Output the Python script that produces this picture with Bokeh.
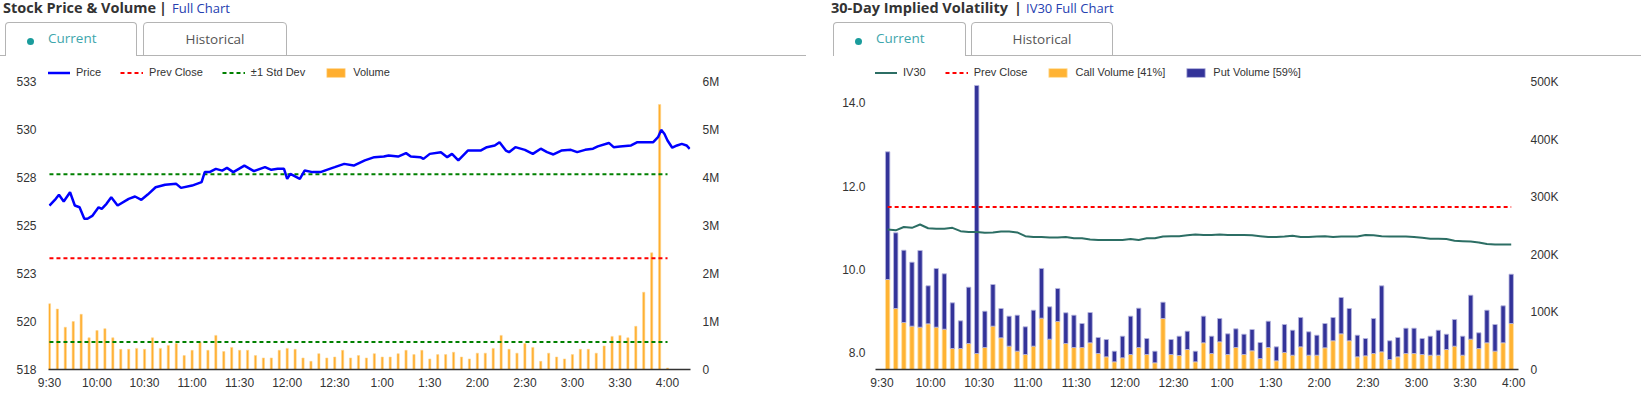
from bokeh.plotting import figure
from bokeh.models import Range1d, LinearAxis, FixedTicker, Legend, LegendItem, Div
from bokeh.layouts import column, row
from bokeh.embed import file_html
from bokeh.resources import INLINE

# ---------------- data ----------------
time_ticks = [0, 30, 60, 90, 120, 150, 180, 210, 240, 270, 300, 330, 360, 390]
time_labels = ["9:30", "10:00", "10:30", "11:00", "11:30", "12:00", "12:30",
               "1:00", "1:30", "2:00", "2:30", "3:00", "3:30", "4:00"]
session_start, session_end = 0, 390

# stock price (minutes after 9:30, price)
price_minutes = [0, 4, 6, 9, 13, 16, 19, 22, 24, 27, 31, 33, 36, 39, 43, 50, 54, 58, 62, 67,
                 73, 80, 83, 90, 96, 98, 101, 105, 109, 112, 116, 123, 129, 136, 140, 144, 148,
                 150, 152, 158, 161, 166, 171, 175, 180, 186, 192, 199, 205, 211, 214, 220, 225,
                 228, 234, 236, 240, 247, 251, 254, 258, 264, 272, 276, 281, 284, 288, 290, 294,
                 300, 305, 310, 314, 318, 323, 329, 333, 338, 343, 346, 353, 356, 360, 367, 371,
                 377, 381, 384, 386, 388, 390, 393, 396, 399, 402, 404]
prices = [526.04, 526.39, 526.60, 526.25, 526.73, 526.04, 525.95, 525.35, 525.35, 525.50,
          525.95, 525.87, 526.13, 526.47, 526.04, 526.39, 526.51, 526.34, 526.61, 526.99,
          527.12, 527.17, 526.96, 527.08, 527.26, 527.78, 527.78, 527.95, 527.86, 528.00,
          527.78, 528.12, 527.83, 528.04, 527.90, 527.95, 527.95, 527.43, 527.69, 527.43,
          527.86, 527.78, 527.78, 527.90, 528.04, 528.21, 528.12, 528.39, 528.56, 528.59,
          528.65, 528.59, 528.77, 528.59, 528.56, 528.47, 528.73, 528.82, 528.56, 528.73,
          528.39, 528.90, 528.90, 529.08, 529.17, 529.34, 528.90, 528.82, 529.08, 528.94,
          528.73, 529.00, 528.82, 528.70, 528.90, 528.94, 528.82, 528.94, 529.00, 529.12,
          529.30, 529.08, 529.12, 529.17, 529.34, 529.34, 529.34, 529.60, 529.98, 529.78,
          529.43, 529.05, 529.17, 529.25, 529.17, 528.99]
prev_close_price = 523.3
std_dev_price = 4.37

volume_minutes = list(range(0, 391, 5))
volume_millions = [1.37, 1.26, 0.88, 1.00, 1.15, 0.66, 0.81, 0.85, 0.66, 0.42,
                   0.42, 0.44, 0.42, 0.66, 0.44, 0.50, 0.54, 0.29, 0.40, 0.57,
                   0.40, 0.71, 0.375, 0.46, 0.40, 0.40, 0.29, 0.24, 0.24, 0.40,
                   0.44, 0.42, 0.24, 0.17, 0.33, 0.24, 0.26, 0.40, 0.24, 0.29,
                   0.24, 0.33, 0.26, 0.26, 0.33, 0.40, 0.31, 0.40, 0.22, 0.31,
                   0.31, 0.36, 0.26, 0.22, 0.34, 0.34, 0.44, 0.71, 0.42, 0.34,
                   0.54, 0.46, 0.17, 0.34, 0.26, 0.22, 0.31, 0.42, 0.42, 0.34,
                   0.49, 0.69, 0.71, 0.66, 0.90, 1.61, 2.43, 5.52, 0.03]
price_ticks = [517.5, 520, 522.5, 525, 527.5, 530, 532.5]
price_tick_labels = ["518", "520", "523", "525", "528", "530", "533"]
volume_ticks = [0, 1e6, 2e6, 3e6, 4e6, 5e6, 6e6]
volume_tick_labels = ["0", "1M", "2M", "3M", "4M", "5M", "6M"]

# implied volatility (5-minute buckets)
iv_minutes = list(range(0, 390, 5))
iv30 = [10.96, 10.94, 11.02, 11.00, 11.08, 10.99, 10.98, 10.98, 11.00, 10.92,
        10.90, 10.90, 10.88, 10.89, 10.91, 10.91, 10.89, 10.80, 10.78, 10.78,
        10.77, 10.77, 10.78, 10.75, 10.75, 10.72, 10.71, 10.71, 10.71, 10.71,
        10.73, 10.71, 10.75, 10.75, 10.79, 10.80, 10.80, 10.82, 10.84, 10.83,
        10.83, 10.84, 10.83, 10.83, 10.83, 10.82, 10.80, 10.78, 10.78, 10.79,
        10.81, 10.78, 10.78, 10.79, 10.80, 10.78, 10.79, 10.79, 10.79, 10.83,
        10.82, 10.80, 10.79, 10.79, 10.79, 10.78, 10.76, 10.74, 10.74, 10.73,
        10.69, 10.68, 10.67, 10.65, 10.61, 10.60, 10.60, 10.60]
iv_prev_close = 11.50
call_volume_k = [156.5, 106.1, 81.7, 75.4, 73.6, 79.4, 73.6, 70.1, 36.5, 36.5,
                 45.2, 27.8, 38.3, 75.4, 55.1, 40.6, 31.9, 26.1, 40.6, 89.3,
                 52.8, 83.5, 45.2, 38.3, 38.3, 46.4, 27.8, 22.0, 13.3, 20.3,
                 26.1, 38.3, 26.1, 11.6, 88.7, 26.1, 24.3, 34.8, 13.3, 46.4,
                 27.8, 48.1, 26.1, 38.3, 26.1, 32.5, 19.1, 38.3, 15.1, 29.6,
                 24.9, 39.4, 24.9, 24.9, 37.7, 49.9, 62.0, 49.9, 22.0, 23.8,
                 27.8, 30.7, 17.4, 22.0, 27.8, 27.8, 26.1, 24.9, 24.9, 34.8,
                 40.6, 24.9, 52.8, 36.5, 46.4, 31.9, 46.4, 80.0]
put_volume_k = [222.1, 131.6, 125.8, 111.3, 133.4, 66.1, 102.1, 96.3, 79.4, 48.1,
                98.0, 466.2, 63.1, 72.4, 51.0, 52.2, 62.6, 48.1, 62.6, 86.4,
                56.2, 57.4, 53.4, 56.2, 41.7, 52.7, 27.9, 30.2, 18.6, 37.7,
                66.7, 68.4, 27.8, 20.3, 28.4, 26.1, 33.7, 31.9, 18.6, 46.4,
                30.2, 40.6, 35.9, 32.4, 35.3, 37.1, 27.9, 45.8, 24.3, 48.7,
                43.5, 51.0, 40.6, 34.8, 42.3, 40.5, 63.2, 56.2, 37.7, 30.1,
                60.9, 114.8, 32.5, 33.7, 44.1, 44.1, 27.8, 33.1, 43.5, 26.6,
                46.4, 33.1, 76.5, 27.3, 56.8, 46.4, 64.3, 85.8]
iv_ticks = [8, 10, 12, 14]
iv_tick_labels = ["8.0", "10.0", "12.0", "14.0"]
optvol_ticks = [0, 100000, 200000, 300000, 400000, 500000]
optvol_tick_labels = ["0", "100K", "200K", "300K", "400K", "500K"]
call_share, put_share = 41, 59

# ---------------- layout constants (pixels) ----------------
FIG_H = 331          # figure height below the tab header
FRAME_H = 307        # frame spans from figure top to the x axis
LEG_Y = 291          # legend bottom, measured up from the x axis
AX_FONT = "Liberation Sans"
TXT = "#333333"


def style_common(p):
    p.outline_line_color = None
    p.xgrid.grid_line_color = None
    p.ygrid.grid_line_color = None
    p.background_fill_color = "white"
    p.border_fill_color = "white"
    for ax in p.xaxis:
        ax.ticker = FixedTicker(ticks=time_ticks)
        ax.major_label_overrides = dict(zip(time_ticks, time_labels))
        ax.axis_line_color = "#333333"
        ax.axis_line_width = 1.5
        ax.major_tick_line_color = None
        ax.minor_tick_line_color = None
        ax.major_tick_out = 0
        ax.minor_tick_out = 0
        ax.major_label_standoff = 6
        ax.major_label_text_font = AX_FONT
        ax.major_label_text_font_size = "12px"
        ax.major_label_text_color = TXT


def style_y(ax, ticks, labels, standoff):
    ax.ticker = FixedTicker(ticks=ticks)
    ax.major_label_overrides = dict(zip(ticks, labels))
    ax.axis_line_color = None
    ax.major_tick_line_color = None
    ax.minor_tick_line_color = None
    ax.major_tick_out = 0
    ax.minor_tick_out = 0
    ax.major_label_standoff = standoff
    ax.major_label_text_font = AX_FONT
    ax.major_label_text_font_size = "12px"
    ax.major_label_text_color = TXT


def make_legend(items):
    return Legend(items=items, orientation="horizontal", location=(-1, LEG_Y),
                  glyph_width=23, glyph_height=11, label_height=11, label_standoff=6,
                  spacing=19, padding=0, margin=0, border_line_color=None,
                  background_fill_alpha=0, label_text_font=AX_FONT,
                  label_text_font_size="11px", label_text_color=TXT)


# ---------------- left chart: price & volume ----------------
# 19.2 px per dollar, 48 px per million shares
p1 = figure(width=820, height=FIG_H, output_backend="svg", toolbar_location=None,
            x_range=Range1d(-0.6, 404.5),
            y_range=Range1d(517.5, 517.5 + FRAME_H / 19.2),
            min_border_left=48, min_border_right=130, min_border_top=0,
            min_border_bottom=24)
p1.extra_y_ranges = {"vol": Range1d(0, FRAME_H / 48 * 1e6)}
p1.add_layout(LinearAxis(y_range_name="vol"), "right")
style_common(p1)
style_y(p1.yaxis[0], price_ticks, price_tick_labels, 12)
style_y(p1.yaxis[1], volume_ticks, volume_tick_labels, 12)

vol_r = p1.vbar(x=volume_minutes, top=[v * 1e6 for v in volume_millions], width=1.4,
                y_range_name="vol", fill_color="#FFAE2E", line_color="#FFD58F",
                line_width=0.6)
hi = prev_close_price + std_dev_price
lo = prev_close_price - std_dev_price
sd_r = p1.line([session_start, session_end], [hi, hi], line_color="#008000",
               line_width=2, line_dash="4 3")
p1.line([session_start, session_end], [lo, lo], line_color="#008000",
        line_width=2, line_dash="4 3")
pc_r = p1.line([session_start, session_end], [prev_close_price, prev_close_price],
               line_color="#FF0000", line_width=2, line_dash="4 3")
price_r = p1.line(price_minutes, prices, line_color="#0000FF", line_width=2.5)

p1.add_layout(make_legend([
    LegendItem(label="Price", renderers=[price_r]),
    LegendItem(label="Prev Close", renderers=[pc_r]),
    LegendItem(label="\u00b11 Std Dev", renderers=[sd_r]),
    LegendItem(label="Volume", renderers=[vol_r]),
]))

# ---------------- right chart: IV30 ----------------
# 41.67 px per vol point, 57.5 px per 100K contracts
bar_offset = 3.5
iv_x = [m + bar_offset for m in iv_minutes]
p2 = figure(width=821, height=FIG_H, output_backend="svg", toolbar_location=None,
            x_range=Range1d(-4, 393),
            y_range=Range1d(7.6, 7.6 + FRAME_H / 41.67),
            min_border_left=55, min_border_right=123, min_border_top=0,
            min_border_bottom=24)
p2.extra_y_ranges = {"ov": Range1d(0, FRAME_H / 57.5 * 100000)}
p2.add_layout(LinearAxis(y_range_name="ov"), "right")
style_common(p2)
style_y(p2.yaxis[0], iv_ticks, iv_tick_labels, 10)
style_y(p2.yaxis[1], optvol_ticks, optvol_tick_labels, 12)

calls = [c * 1000 for c in call_volume_k]
tops = [(c + q) * 1000 for c, q in zip(call_volume_k, put_volume_k)]
call_r = p2.vbar(x=iv_x, top=calls, bottom=0, width=2.7, y_range_name="ov",
                 fill_color="#FFB333", line_color="#FFE2A8", line_width=0.8)
put_r = p2.vbar(x=iv_x, top=tops, bottom=calls, width=2.7, y_range_name="ov",
                fill_color="#333399", line_color="#B8B8E0", line_width=0.8)
ivpc_r = p2.line([iv_x[0], iv_x[-1]], [iv_prev_close, iv_prev_close],
                 line_color="#FF0000", line_width=2, line_dash="4 3")
iv_r = p2.line(iv_x, iv30, line_color="#2C6E64", line_width=2)

p2.add_layout(make_legend([
    LegendItem(label="IV30", renderers=[iv_r]),
    LegendItem(label="Prev Close", renderers=[ivpc_r]),
    LegendItem(label="Call Volume [%d%%]" % call_share, renderers=[call_r]),
    LegendItem(label="Put Volume [%d%%]" % put_share, renderers=[put_r]),
]))

# ---------------- header with tabs ----------------
BORDER = "#b4b4b4"


def abs_text(left, top, txt, size, color, weight="normal", width=None):
    w = "width:%dpx;text-align:center;" % width if width else ""
    return ('<div style="position:absolute;left:%spx;top:%spx;%sfont-family:\'Open Sans\';'
            'font-size:%spx;line-height:%spx;color:%s;font-weight:%s;white-space:nowrap;">%s</div>'
            % (left, top, w, size, size, color, weight, txt))


def panel(x0, title, bar_x, link_x, link, tab1, tab2, line_from, line_to, pre_line):
    h = []
    h.append(abs_text(x0 + 3, 1, title, 14.5, "#333333", "bold"))
    h.append(abs_text(bar_x, 1, "|", 14.5, "#333333", "bold"))
    h.append(abs_text(link_x, 1.5, link, 13, "#2540B0"))
    t1l, t1r = tab1
    t2l, t2r = tab2
    h.append('<div style="position:absolute;left:%dpx;top:22px;width:%dpx;height:34px;'
             'box-sizing:border-box;border:1px solid %s;border-bottom:none;'
             'border-radius:4px 4px 0 0;background:#fff;"></div>' % (t1l, t1r - t1l, BORDER))
    h.append('<div style="position:absolute;left:%dpx;top:22px;width:%dpx;height:34px;'
             'box-sizing:border-box;border:1px solid %s;'
             'border-radius:4px 4px 0 0;background:#fff;"></div>' % (t2l, t2r - t2l, BORDER))
    if pre_line:
        h.append('<div style="position:absolute;left:%dpx;top:55px;width:%dpx;height:1px;'
                 'background:%s;"></div>' % (x0, t1l - x0, BORDER))
    h.append('<div style="position:absolute;left:%dpx;top:55px;width:%dpx;height:1px;'
             'background:%s;"></div>' % (line_from, line_to - line_from, BORDER))
    h.append('<div style="position:absolute;left:%dpx;top:37.5px;width:7px;height:7px;'
             'border-radius:50%%;background:#1A9C9C;"></div>' % (t1l + 22))
    h.append(abs_text(t1l + 43, 32.3, "Current", 13.5, "#3EA6AC"))
    h.append(abs_text(t2l, 32.8, "Historical", 13.5, "#555555", width=t2r - t2l))
    return "".join(h)


html = ('<div style="position:relative;width:1641px;height:62px;overflow:visible;">'
        + panel(0, "Stock Price &amp; Volume", 159, 172, "Full Chart",
                (5, 137), (143, 287), 137, 806, True)
        + panel(828, "30-Day Implied Volatility", 1014, 1026, "IV30 Full Chart",
                (833, 966), (971, 1113), 966, 1641, False)
        + '</div>')
header = Div(text=html, width=1641, height=62, margin=0)

root = column(header, row(p1, p2, spacing=0), spacing=0)

open("out.html", "w").write(file_html(root, INLINE))
